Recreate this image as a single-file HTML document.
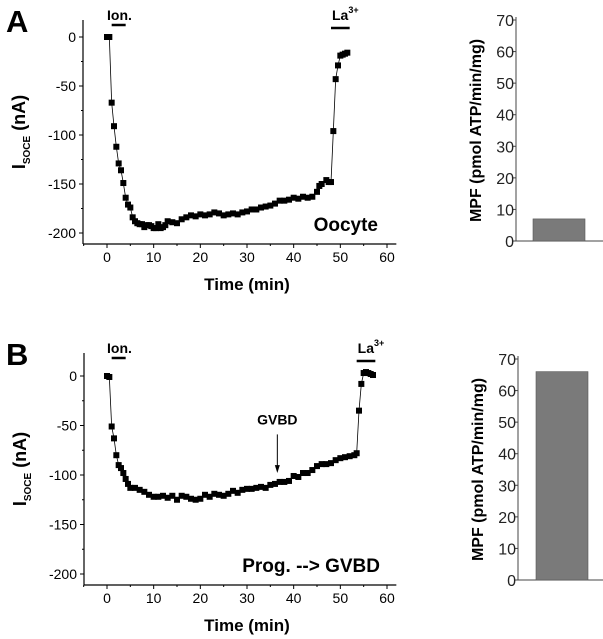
<!DOCTYPE html>
<html><head><meta charset="utf-8"><style>
body{margin:0;background:#fff;width:603px;height:639px;overflow:hidden}
svg{display:block;font-family:"Liberation Sans",Arial,sans-serif}
</style></head><body>
<svg id="fig" width="603" height="639"></svg>
<script>
const timeA=[0,0.5,1,1.5,2,2.5,3,3.5,4,4.5,5,5.5,6,6.5,7,7.5,8,8.5,9,9.5,10,10.5,11,11.5,12,12.5,13,14,15,16,17,18,19,20,21,22,23,24,25,26,27,28,29,30,31,32,33,34,35,36,37,38,39,40,41,42,43,44,45,45.5,46,47,47.5,48,48.5,49,49.5,50,50.5,51,51.5];
const valA=[0,0,-67,-91,-112,-129,-136,-149,-164,-171,-174,-184,-188,-190,-191,-191,-194,-192,-192,-193,-195,-195,-191,-195,-194,-192,-188,-189,-190,-186,-184,-182,-183,-181,-182,-181,-179,-180,-182,-181,-180,-181,-179,-178,-176,-176,-174,-173,-172,-170,-167,-167,-166,-164,-165,-163,-164,-163,-158,-152,-150,-146,-148,-148,-96,-43,-29,-19,-18,-17,-16];
const timeB=[0,0.5,1,1.5,2,2.5,3,3.5,4,4.5,5,6,7,8,9,10,11,12,13,14,15,16,17,18,19,20,21,22,23,24,25,26,27,28,29,30,31,32,33,34,35,36,37,38,39,40,41,42,43,44,45,46,47,48,49,50,51,52,53,53.5,54,54.5,55,55.5,56,56.5,57];
const valB=[0,-1,-51,-63,-80,-90,-93,-98,-104,-109,-113,-113,-115,-117,-120,-122,-122,-121,-123,-121,-125,-121,-122,-124,-125,-124,-120,-122,-119,-120,-121,-119,-116,-118,-115,-114,-114,-113,-112,-113,-110,-109,-107,-107,-106,-101,-102,-98,-98,-95,-91,-89,-89,-88,-85,-83,-82,-81,-80,-78,-35,-8,3,4,3,2,1];
const xTicks=[0,10,20,30,40,50,60];
const yTicks=[0,-50,-100,-150,-200];
const barTicks=[0,10,20,30,40,50,60,70];
const mpfA=[7];
const mpfB=[66];

const NS="http://www.w3.org/2000/svg";
const svg=document.getElementById('fig');
function el(t,a,txt){const e=document.createElementNS(NS,t);for(const k in a)e.setAttribute(k,a[k]);if(txt!==undefined)e.textContent=txt;svg.appendChild(e);return e;}

function linePanel(o){
  const sx=v=>o.x0+(v)*(o.x60-o.x0)/60;
  const sy=v=>o.y0+(v)*(o.y0-o.y200)/200;
  let e;
  e=el('line',{x1:o.ax,y1:o.top,x2:o.ax,y2:o.bot,stroke:'#000','stroke-width':1.2});
  
  e=el('line',{x1:o.ax,y1:o.bot,x2:sx(62),y2:o.bot,stroke:'#000','stroke-width':1.2});
  
  for(let t=-5;t<=60;t+=5){el('line',{x1:sx(t),y1:o.bot,x2:sx(t),y2:o.bot+(t%10===0?4:2),stroke:'#000'});}
  xTicks.forEach(t=>{e=el('text',{x:sx(t),y:o.bot+18,'font-size':14,'text-anchor':'middle'},t);
    });
  for(let v=0;v>=-200;v-=25){el('line',{x1:o.ax,y1:sy(v),x2:o.ax-(v%50===0?4:2),y2:sy(v),stroke:'#000'});}
  yTicks.forEach(v=>{e=el('text',{x:o.ax-7,y:sy(v)+5,'font-size':14,'text-anchor':'end'},v);
    });
  e=el('text',{x:sx(30),y:o.bot+46,'font-size':17,'font-weight':'bold','text-anchor':'middle'},'Time (min)');
  
  const cy=(o.top+o.bot)/2;
  e=el('text',{x:0,y:0,'font-size':18,'font-weight':'bold','text-anchor':'middle',transform:`translate(${o.ax-58},${cy}) rotate(-90)`});
  
  e.innerHTML='I<tspan font-size="10" dy="5">SOCE</tspan><tspan dy="-5"> (nA)</tspan>';
  const pts=o.t.map((t,i)=>sx(t)+','+sy(o.v[i])).join(' ');
  e=el('polyline',{points:pts,fill:'none',stroke:'#000','stroke-width':0.8});
  
  o.t.forEach((t,i)=>{e=el('rect',{x:sx(t)-3,y:sy(o.v[i])-3,width:6,height:6,fill:'#000'});
    });
  e=el('text',{x:6,y:o.top+12,'font-size':31,'font-weight':'bold'},o.p.toUpperCase());
  
  e=el('text',{x:sx(0),y:o.top,'font-size':14,'font-weight':'bold'},'Ion.');
  
  el('line',{x1:sx(1),y1:o.top+5,x2:sx(4),y2:o.top+5,stroke:'#000','stroke-width':2.5});
  e=el('text',{x:sx(o.la[0])+1,y:o.top,'font-size':14,'font-weight':'bold'});
  e.innerHTML='La<tspan font-size="9" dy="-7">3+</tspan>';
  
  el('line',{x1:sx(o.la[0]),y1:o.top+8,x2:sx(o.la[1]),y2:o.top+8,stroke:'#000','stroke-width':2.5});
  e=el('text',{x:o.condX,y:o.bot-13,'font-size':19,'font-weight':'bold','text-anchor':'end'},o.cond);
  
  return {sx,sy};
}
linePanel({p:'a',ax:83,top:20,bot:244,x0:107,x60:387,y0:37,y200:233,t:timeA,v:valA,la:[48,52],cond:'Oocyte',condX:378});
const B=linePanel({p:'b',ax:84,top:353,bot:585,x0:107,x60:387,y0:376,y200:574,t:timeB,v:valB,la:[53.5,57.5],cond:'Prog. --> GVBD',condX:380});
let g=el('text',{x:B.sx(36.5),y:B.sy(-49),'font-size':14,'font-weight':'bold','text-anchor':'middle'},'GVBD');

el('line',{x1:B.sx(36.5),y1:B.sy(-59),x2:B.sx(36.5),y2:B.sy(-95),stroke:'#000'});
el('polygon',{points:`${B.sx(36.5)-2.5},${B.sy(-90)} ${B.sx(36.5)+2.5},${B.sy(-90)} ${B.sx(36.5)},${B.sy(-98)}`,fill:'#000'});

function barPanel(o){
  const sy=v=>o.y0+v*(o.y70-o.y0)/70;
  let e;
  e=el('line',{x1:o.ax,y1:o.y70-3,x2:o.ax,y2:o.y0,stroke:'#444','stroke-width':1});
  
  e=el('line',{x1:o.ax,y1:o.y0,x2:603,y2:o.y0,stroke:'#444','stroke-width':1});
  
  barTicks.forEach(v=>{el('line',{x1:o.ax,y1:sy(v),x2:o.ax-3,y2:sy(v),stroke:'#444'});
    e=el('text',{x:o.ax-2,y:sy(v)+6,'font-size':16,'text-anchor':'end',fill:'#222'},v);
    });
  e=el('rect',{x:o.bx,y:sy(o.val[0]),width:52,height:o.y0-sy(o.val[0]),fill:'#7a7a7a',stroke:'#555','stroke-width':0.6});
  
  e=el('text',{x:0,y:0,'font-size':16,'font-weight':'bold','text-anchor':'middle',transform:`translate(${o.ax-35},${(o.y0+o.y70)/2}) rotate(-90)`},'MPF (pmol ATP/min/mg)');
  
}
barPanel({p:'a',ax:516,y0:241,y70:20,bx:533,val:mpfA});
barPanel({p:'b',ax:518,y0:580,y70:359,bx:536,val:mpfB});
</script>
</body></html>
